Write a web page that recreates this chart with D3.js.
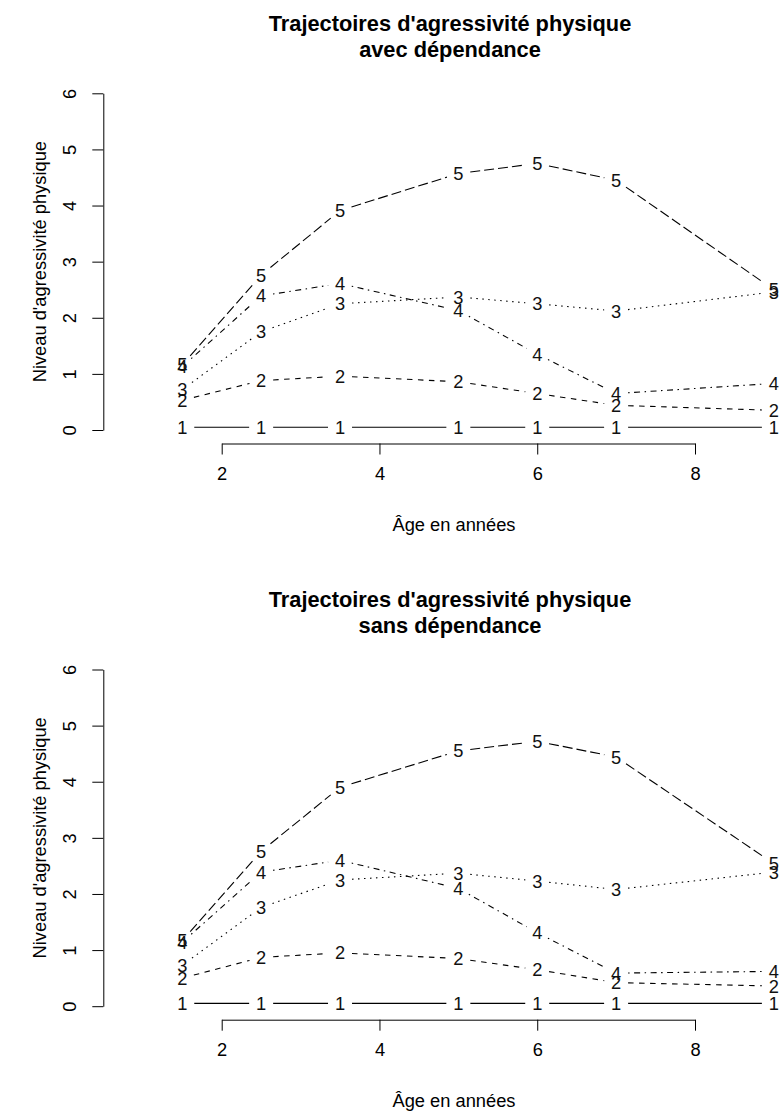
<!DOCTYPE html>
<html>
<head>
<meta charset="utf-8">
<script src="https://cdn.jsdelivr.net/npm/d3@7"></script>
<style>
  body { margin: 0; background: #fff; }
  svg { display: block; font-family: "Liberation Sans", Arial, Helvetica, sans-serif; }
</style>
</head>
<body>
<div id="chart"></div>
<script>
// Ages of measurement (x) and trajectory groups
const ages = [1.5, 2.5, 3.5, 5, 6, 7, 9];
const groups = ["1", "2", "3", "4", "5"];

// Mean physical aggression level per group, "avec dépendance"
const avecValues = [
    [0.05, 0.05, 0.05, 0.05, 0.05, 0.05, 0.05],
    [0.53, 0.88, 0.96, 0.86, 0.65, 0.44, 0.35],
    [0.72, 1.75, 2.25, 2.37, 2.25, 2.12, 2.46],
    [1.13, 2.39, 2.61, 2.13, 1.35, 0.65, 0.83],
    [1.16, 2.76, 3.91, 4.57, 4.75, 4.45, 2.50]
];

// Same, "sans dépendance"
const sansValues = [
    [0.05, 0.05, 0.05, 0.05, 0.05, 0.05, 0.05],
    [0.50, 0.87, 0.95, 0.85, 0.65, 0.42, 0.36],
    [0.73, 1.76, 2.25, 2.37, 2.23, 2.08, 2.39],
    [1.14, 2.39, 2.60, 2.10, 1.31, 0.59, 0.62],
    [1.17, 2.76, 3.90, 4.55, 4.72, 4.44, 2.54]
];

const xTicks = [2, 4, 6, 8];
const yTicks = [0, 1, 2, 3, 4, 5, 6];

const panels = [
    { title: ["Trajectoires d'agressivité physique", "avec dépendance"], values: avecValues, offset: 0 },
    { title: ["Trajectoires d'agressivité physique", "sans dépendance"], values: sansValues, offset: 576.2 }
];

// R matplot default line types 1:5
const dashes = ["none", "5.5,5.5", "1.5,4.5", "1.5,4.5,6,4.5", "10,4"];

var width = 780, height = 1112;
var fs = 18.3;         // base font size
var gap = 12;          // type="b" gap around plotted characters

var svg = d3.select("#chart")
    .append("svg")
    .attr("width", width)
    .attr("height", height);

// Scales (plot region: left 103.3, y from 443.5 to 79.8)
var x = d3.scaleLinear().domain([2, 8]).range([221.7, 695]);
var y = d3.scaleLinear().domain([0, 6]).range([430, 93.3]);
var plotLeft = 103.3, plotBottom = 443.5, centerX = 450;

panels.forEach(function (p) {
    var g = svg.append("g").attr("transform", "translate(0," + p.offset + ")");

    // Title
    g.append("text")
        .attr("text-anchor", "middle")
        .attr("font-weight", "bold")
        .attr("font-size", 21.8)
        .selectAll("tspan")
        .data(p.title)
        .enter()
        .append("tspan")
        .attr("x", centerX)
        .attr("y", (d, i) => 30.5 + i * 26)
        .text(d => d);

    // X axis (R style: line only between first and last tick)
    var xa = g.append("g")
        .attr("transform", "translate(0," + plotBottom + ")")
        .call(d3.axisBottom(x).tickValues(xTicks).tickFormat(d3.format("d"))
            .tickSize(11).tickSizeOuter(0).tickPadding(6));
    xa.selectAll("text").attr("font-size", fs).attr("fill", "#000").attr("dy", "1.05em");
    xa.selectAll("line, path").attr("stroke", "#000");
    xa.attr("font-family", null);

    // Y axis with labels parallel to axis
    var ya = g.append("g")
        .attr("transform", "translate(" + plotLeft + ",0)")
        .call(d3.axisLeft(y).tickValues(yTicks).tickFormat(d3.format("d"))
            .tickSize(11).tickSizeOuter(0));
    ya.selectAll("line, path").attr("stroke", "#000");
    ya.attr("font-family", null);
    ya.selectAll("text")
        .attr("font-size", fs)
        .attr("fill", "#000")
        .attr("text-anchor", "middle")
        .attr("x", null)
        .attr("dy", null)
        .attr("transform", "translate(-27.5,0) rotate(-90)");

    // Axis titles
    g.append("text")
        .attr("text-anchor", "middle")
        .attr("font-size", fs)
        .attr("x", centerX + 4)
        .attr("y", 531)
        .text("Âge en années");
    g.append("text")
        .attr("text-anchor", "middle")
        .attr("font-size", fs)
        .attr("transform", "translate(46," + ((plotBottom + 79.8) / 2) + ") rotate(-90)")
        .text("Niveau d'agressivité physique");

    // Lines with gaps around points (type = "b")
    p.values.forEach(function (vals, gi) {
        var pts = vals.map((v, i) => [x(ages[i]), y(v)]);
        var segs = [];
        for (var i = 0; i < pts.length - 1; i++) {
            var a = pts[i], b = pts[i + 1];
            var dx = b[0] - a[0], dy = b[1] - a[1];
            var len = Math.sqrt(dx * dx + dy * dy);
            if (len <= 2 * gap) continue;
            var ux = dx / len, uy = dy / len;
            segs.push([a[0] + ux * gap, a[1] + uy * gap, b[0] - ux * gap, b[1] - uy * gap]);
        }
        g.append("g")
            .selectAll("line")
            .data(segs)
            .enter()
            .append("line")
            .attr("x1", d => d[0])
            .attr("y1", d => d[1])
            .attr("x2", d => d[2])
            .attr("y2", d => d[3])
            .attr("stroke", "#000")
            .attr("stroke-width", 1.1)
            .attr("stroke-dasharray", dashes[gi]);

        g.append("g")
            .selectAll("text")
            .data(pts)
            .enter()
            .append("text")
            .attr("x", d => d[0])
            .attr("y", d => d[1])
            .attr("dy", "0.36em")
            .attr("text-anchor", "middle")
            .attr("font-size", fs)
            .attr("fill", "#111")
            .text(groups[gi]);
    });
});
</script>
</body>
</html>
